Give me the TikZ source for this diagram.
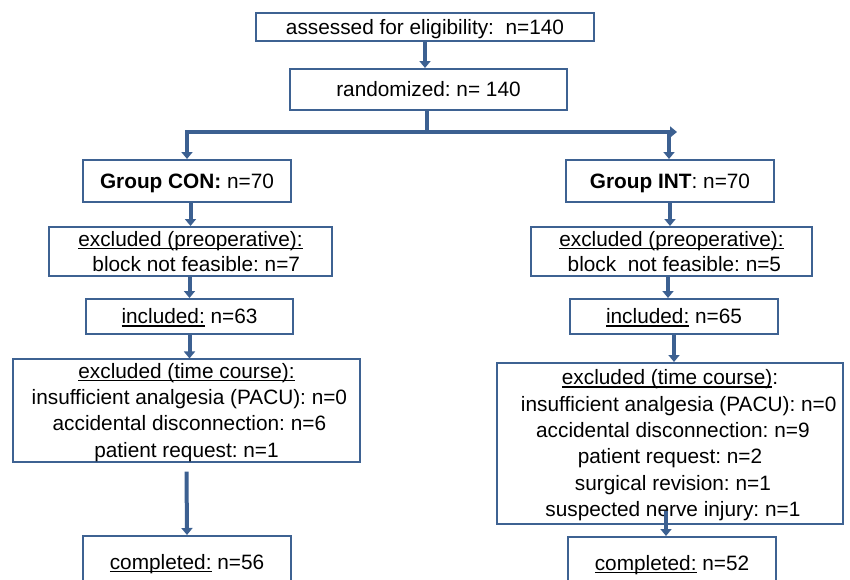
\documentclass[tikz,border=0pt]{standalone}
\usepackage{fontspec}
\setmainfont{Liberation Sans}
\usetikzlibrary{arrows.meta}
\definecolor{bordc}{RGB}{62,98,146}
\definecolor{arrc}{RGB}{60,96,145}
\newcommand{\myul}[1]{\setbox0\hbox{#1}\rlap{\rule[-3pt]{\wd0}{1.3pt}}\box0\relax}
\newcommand{\st}{\rule[-4.5pt]{0pt}{23.5pt}}
\newcommand{\sd}{\rule[-4.5pt]{0pt}{0pt}}
\frenchspacing
\tikzset{
  box/.style={draw=bordc, line width=2pt, rectangle, inner sep=0pt, align=center,
    font=\fontsize{20.8}{25}\selectfont\frenchspacing, text=black},
  arr/.style={draw=arrc, line width=4pt, -{Triangle[width=11pt,length=7pt]}},
  plain/.style={draw=arrc, line width=4pt}
}
\begin{document}
\begin{tikzpicture}[x=1pt,y=-1pt]
\useasboundingbox (0,0) rectangle (850,579);
\clip (0,0) rectangle (850,579);
\node[box, minimum width=338, minimum height=28] (ass) at (425,27) {\st assessed for eligibility:\ \ n=140};
\node[box, minimum width=277, minimum height=41] (ran) at (428.5,89.5) {\st randomized: n= 140};
\node[box, minimum width=208, minimum height=42] (con) at (187,181) {\st\textbf{Group CON:} n=70};
\node[box, minimum width=208, minimum height=42] (int) at (670,181) {\st\textbf{Group INT}: n=70};
\node[box, minimum width=283, minimum height=49] (expcon) at (190.5,251.5) {\st\myul{excluded (preoperative):}\\ \sd\ \ block not feasible: n=7};
\node[box, minimum width=281, minimum height=49] (expint) at (671.5,251.5) {\st\myul{excluded (preoperative):}\\ \sd\ block\ \ not feasible: n=5};
\node[box, minimum width=207, minimum height=35] (incon) at (189.5,316.5) {\st\myul{included:} n=63};
\node[box, minimum width=208, minimum height=35] (inint) at (674,316.5) {\st\myul{included:} n=65};
\node[box, minimum width=347, minimum height=97, font=\fontsize{20.8}{26.2}\selectfont\frenchspacing] (tcon) at (186.5,410.5) {\st\myul{excluded (time course):}\\ \ insufficient analgesia (PACU): n=0\\ \ accidental disconnection: n=6\\ \sd patient request: n=1};
\node[box, minimum width=346, minimum height=161, font=\fontsize{20.8}{26.4}\selectfont\frenchspacing] (tint) at (670,443.5) {\st\myul{excluded (time course)}:\\ \ \ \ insufficient analgesia (PACU): n=0\\ \ accidental disconnection: n=9\\ patient request: n=2\\ \ surgical revision: n=1\\ \sd\ suspected nerve injury: n=1};
\node[box, minimum width=208, minimum height=52] (ccon) at (187,562) {\st\myul{completed:} n=56};
\node[box, minimum width=208, minimum height=52] (cint) at (672,563) {\st\myul{completed:} n=52};
% connectors
\coordinate (split) at (427,132);
\coordinate (ljoin) at (187,132);
\coordinate (rjoin) at (669,132);
\coordinate (rend) at (677,132);
\draw[arr] (ass.south) -- (ass.south |- ran.north);
\draw[plain] (ran.south -| split) -- (split);
\draw[arr] ([xshift=-2pt]ljoin) -- (rend);
\draw[arr] ([xshift=2pt]split) -- (ljoin) -- (con.north);
\draw[arr] (rjoin) -- (rjoin |- int.north);
\draw[arr] (expcon.north |- con.south) -- (expcon.north);
\draw[arr] (incon.north |- expcon.south) -- (incon.north);
\draw[arr] (incon.south) -- (incon.south |- tcon.north);
\draw[arr] ([yshift=-9pt]tcon.south) -- (ccon.north);
\draw[arr] (int.south) -- (int.south |- expint.north);
\draw[arr] ([xshift=-2pt]int.south |- expint.south) -- ([xshift=-2pt]int.south |- inint.north);
\draw[arr] (inint.south) -- (inint.south |- tint.north);
\draw[arr] ([shift={(-6,-25)}]cint.north) -- ([xshift=-6pt]cint.north);
\end{tikzpicture}
\end{document}
